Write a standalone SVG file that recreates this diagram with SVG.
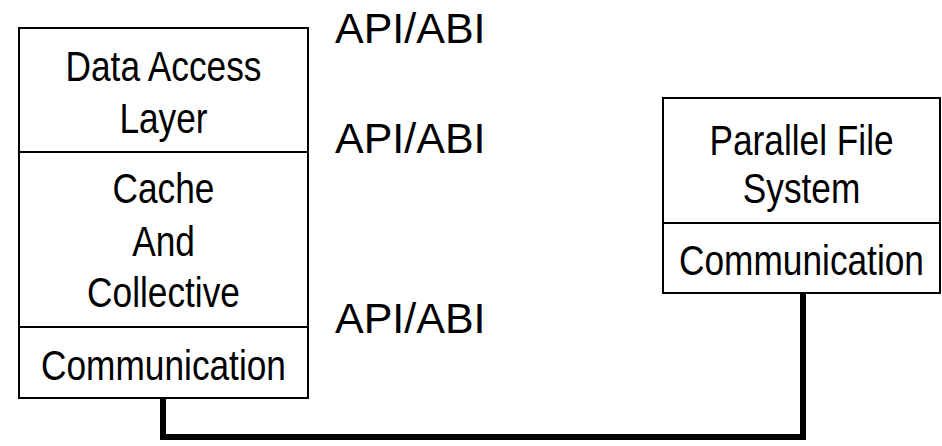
<svg xmlns="http://www.w3.org/2000/svg" width="942" height="446" viewBox="0 0 942 446">
  <style>
    .box { fill: #fff; stroke: #000; stroke-width: 2; }
    .lbl { font-family: "Liberation Sans", Arial, sans-serif; font-size: 43px; fill: #000; text-anchor: middle; }
    .api { font-family: "Liberation Sans", Arial, sans-serif; font-size: 43px; fill: #000; }
    .link { fill: none; stroke: #000; stroke-width: 6; stroke-linejoin: miter; }
  </style>
  <rect width="942" height="446" fill="#fff"/>

  <g id="connectors">
    <path class="link" d="M163,398 V437 H803 V293"/>
  </g>

  <g id="data-access-layer">
    <rect class="box" x="19" y="28" width="289" height="124"/>
    <g transform="translate(163.5,0) scale(0.82,1)">
      <text class="lbl" x="0" y="81">Data Access</text>
      <text class="lbl" x="0" y="133">Layer</text>
    </g>
  </g>

  <g id="cache-collective">
    <rect class="box" x="19" y="152" width="289" height="175"/>
    <g transform="translate(163.5,0) scale(0.82,1)">
      <text class="lbl" x="0" y="203">Cache</text>
      <text class="lbl" x="0" y="256">And</text>
      <text class="lbl" x="0" y="307">Collective</text>
    </g>
  </g>

  <g id="client-communication">
    <rect class="box" x="19" y="327" width="289" height="71"/>
    <g transform="translate(163.5,0) scale(0.82,1)">
      <text class="lbl" x="0" y="380">Communication</text>
    </g>
  </g>

  <g id="parallel-file-system">
    <rect class="box" x="663" y="98" width="277" height="125"/>
    <g transform="translate(801.5,0) scale(0.82,1)">
      <text class="lbl" x="0" y="155">Parallel File</text>
      <text class="lbl" x="0" y="203">System</text>
    </g>
  </g>

  <g id="server-communication">
    <rect class="box" x="663" y="223" width="277" height="70"/>
    <g transform="translate(801.5,0) scale(0.82,1)">
      <text class="lbl" x="0" y="275">Communication</text>
    </g>
  </g>

  <g id="interfaces">
    <text class="api" x="335" y="43">API/ABI</text>
    <text class="api" x="335" y="153">API/ABI</text>
    <text class="api" x="335" y="333">API/ABI</text>
  </g>
</svg>
